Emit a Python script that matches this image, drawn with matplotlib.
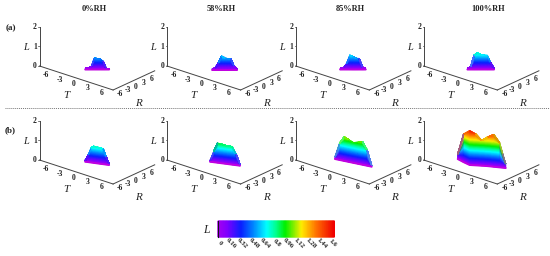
import matplotlib
matplotlib.use("Agg")
import matplotlib.pyplot as plt
import numpy as np
from matplotlib.colors import LinearSegmentedColormap

plt.rcParams["font.family"] = ["Liberation Serif", "DejaVu Serif"]

RH_LABELS = ["0%RH", "58%RH", "85%RH", "100%RH"]
AXIS_TICKS = [-6, -3, 0, 3, 6]
L_TICKS = [0, 1, 2]
BAR_TICKS = [0, 0.16, 0.32, 0.48, 0.64, 0.8, 0.96, 1.12, 1.28, 1.44, 1.6]

# ridge of each surface: T, R and L along the visible front
T_A1 = [-1.2, -0.82, -0.44, -0.06, 0.32, 0.7, 1.08, 1.46, 1.84]
R_A1 = [-2.44, -1.96, -1.48, -1.0, -0.53, -0.05, 0.42, 0.9, 1.38]
L_A1 = [0.05, 0.08, 0.15, 0.58, 0.55, 0.53, 0.42, 0.05, 0.04]

T_A2 = [-1.15, -0.75, -0.35, 0.04, 0.44, 0.84, 1.23, 1.63, 2.03]
R_A2 = [-2.77, -2.28, -1.78, -1.28, -0.78, -0.28, 0.21, 0.71, 1.21]
L_A2 = [0.05, 0.1, 0.35, 0.7, 0.62, 0.58, 0.57, 0.2, 0.04]

T_A3 = [-1.37, -0.97, -0.56, -0.15, 0.26, 0.67, 1.07, 1.48, 1.89]
R_A3 = [-2.65, -2.14, -1.63, -1.12, -0.62, -0.11, 0.4, 0.9, 1.44]
L_A3 = [0.05, 0.08, 0.3, 0.72, 0.66, 0.57, 0.56, 0.12, 0.04]

T_A4 = [-1.46, -1.04, -0.61, -0.19, 0.24, 0.66, 1.09, 1.51, 1.93]
R_A4 = [-2.76, -2.23, -1.7, -1.17, -0.63, -0.1, 0.43, 0.96, 1.49]
L_A4 = [0.05, 0.15, 0.72, 0.85, 0.75, 0.73, 0.72, 0.35, 0.04]

T_B1 = [-1.72, -1.23, -0.73, -0.23, 0.27, 0.76, 1.26, 1.75, 2.25]
R_B1 = [-1.57, -1.29, -1.02, -0.74, -0.47, -0.19, 0.09, 0.36, 0.64]
L_B1 = [0.05, 0.35, 0.75, 0.85, 0.82, 0.8, 0.78, 0.4, 0.05]

T_B2 = [-2.05, -1.43, -0.82, -0.2, 0.41, 1.03, 1.65, 2.26, 2.88]
R_B2 = [-1.99, -1.64, -1.28, -0.93, -0.57, -0.22, 0.13, 0.49, 0.84]
L_B2 = [0.05, 0.55, 1.0, 0.97, 0.93, 0.92, 0.91, 0.55, 0.05]

T_B3 = [-3.27, -2.42, -1.57, -0.72, 0.13, 0.98, 1.83, 2.68, 3.53]
R_B3 = [-1.26, -1.0, -0.74, -0.48, -0.22, 0.05, 0.31, 0.57, 0.83]
L_B3 = [0.1, 0.85, 1.22, 1.13, 1.03, 1.1, 1.17, 0.8, 0.05]

T_B4 = [-3.94, -2.32, -0.76, 0.1, 0.96, 1.85, 2.79, 3.73, 4.66]
R_B4 = [-2.1, -2.69, -3.12, -2.34, -1.55, -0.8, -0.15, 0.5, 1.15]
L_B4 = [0.25, 1.43, 1.75, 1.6, 1.28, 1.48, 1.64, 1.24, 0.2]

ROW_A = [(T_A1, R_A1, L_A1), (T_A2, R_A2, L_A2), (T_A3, R_A3, L_A3), (T_A4, R_A4, L_A4)]
ROW_B = [(T_B1, R_B1, L_B1), (T_B2, R_B2, L_B2), (T_B3, R_B3, L_B3), (T_B4, R_B4, L_B4)]

# layout, in pixels
PANEL_X = [39.5, 167, 295.7, 423.7]
TITLE_X = [94, 221, 350, 487.7]
ROW_Y = [66, 160]
AXIS_END = 8
INK = "#444444"
TEXT = "#222222"
# the visible front sits below the true surface, so colours run a bit behind height
COLOUR_GAIN = 0.88

cmap = LinearSegmentedColormap.from_list("rainbow_l", [
    (0.0, "#a800f0"), (0.08, "#8000ff"), (0.2, "#0a20ff"), (0.3, "#0080ff"),
    (0.42, "#00ffff"), (0.5, "#00ff90"), (0.58, "#00f000"), (0.66, "#90ee00"),
    (0.72, "#ffee00"), (0.85, "#ff7000"), (1.0, "#f00000")])


def project(x0, y0, t, r, l=0.0):
    """Oblique projection of (T, R, L) to pixel position."""
    t = np.asarray(t, dtype=float) + AXIS_END
    r = np.asarray(r, dtype=float) + AXIS_END
    return x0 + t * 4.6 + r * 2.6, y0 + t * 1.5 - r * 1.2 - np.asarray(l) * 19.7


def draw_frame(ax, x0, y0):
    lo, hi = -AXIS_END, AXIS_END
    px, py = project(x0, y0, [lo, hi], [lo, lo])
    ax.plot(px, py, color=INK, lw=0.7)
    px, py = project(x0, y0, [hi, hi], [lo, hi])
    ax.plot(px, py, color=INK, lw=0.7)
    px, py = project(x0, y0, [lo, lo], [lo, lo], [0, 2])
    ax.plot(px, py, color=INK, lw=0.7)
    for tick in AXIS_TICKS:
        px, py = project(x0, y0, tick, lo)
        ax.text(px - 2.5, py + 6, str(tick), fontsize=5.5, fontweight="bold", color=TEXT, ha="center", va="center")
        px, py = project(x0, y0, hi, tick)
        ax.text(px + 2, py + 6.2, str(tick), fontsize=5.5, fontweight="bold", color=TEXT, ha="center", va="center")
    for tick in L_TICKS:
        px, py = project(x0, y0, lo, lo, tick)
        ax.plot([px - 1.2, px], [py, py], color=INK, lw=0.5)
        ax.text(px - 4.5, py + 0.5, str(tick), fontsize=5.5, fontweight="bold", color=TEXT, ha="center", va="center")
    ax.text(x0 - 13.5, y0 - 19, "L", fontsize=7.5, style="italic", color=TEXT, ha="center", va="center")
    ax.text(x0 + 26.5, y0 + 29, "T", fontsize=8, style="italic", color=TEXT, ha="center", va="center")
    ax.text(x0 + 99, y0 + 37, "R", fontsize=8, style="italic", color=TEXT, ha="center", va="center")


def draw_surface(ax, x0, y0, t_vals, r_vals, l_vals):
    levels = np.arange(0, 1.84, 0.04)
    heights = np.minimum.outer(levels, np.asarray(l_vals))
    t_grid = np.tile(t_vals, (len(levels), 1))
    r_grid = np.tile(r_vals, (len(levels), 1))
    px, py = project(x0, y0, t_grid, r_grid, heights)
    ax.pcolormesh(px, py, heights * COLOUR_GAIN, cmap=cmap, vmin=0, vmax=1.6, shading="gouraud", zorder=3)
    bx, by = project(x0, y0, t_vals, r_vals)
    ax.plot(bx, by, color="#c000e0", lw=1.4, zorder=4, solid_capstyle="round")


fig = plt.figure(figsize=(5.5, 2.56), dpi=100)
ax = fig.add_axes([0, 0, 1, 1])

for y0, row in zip(ROW_Y, [ROW_A, ROW_B]):
    for x0, (t_vals, r_vals, l_vals) in zip(PANEL_X, row):
        draw_frame(ax, x0, y0)
        draw_surface(ax, x0, y0, t_vals, r_vals, l_vals)

for x, label in zip(TITLE_X, RH_LABELS):
    ax.text(x, 9, label, fontsize=6, fontweight="bold", color=TEXT, ha="center", va="center")
ax.text(10.5, 28, "(a)", fontsize=6.5, fontweight="bold", color=TEXT, ha="center", va="center")
ax.text(10, 130, "(b)", fontsize=6.5, fontweight="bold", color=TEXT, ha="center", va="center")

ax.plot([5, 550], [107.5, 107.5], color="#777777", lw=0.7, ls=(0, (1, 1)))

# colour bar
bar_vals = np.linspace(0, 1.6, 200)
bar_x = 218 + bar_vals / 1.6 * 116.5
ax.pcolormesh(bar_x, [221, 237], np.vstack([bar_vals, bar_vals]), cmap=cmap, vmin=0, vmax=1.6, shading="gouraud")
ax.plot([217.5, 217.5], [221, 237], color="#111111", lw=0.8)
for tick in BAR_TICKS:
    ax.text(220 + tick / 1.6 * 113, 243, str(tick), fontsize=5, fontweight="bold", color=TEXT,
            rotation=-45, ha="center", va="center", rotation_mode="anchor")
ax.text(206.7, 230, "L", fontsize=8.5, style="italic", color=TEXT, ha="center", va="center")

ax.set_xlim(0, 550)
ax.set_ylim(256, 0)
ax.axis("off")

fig.savefig("out.png", dpi=100)
